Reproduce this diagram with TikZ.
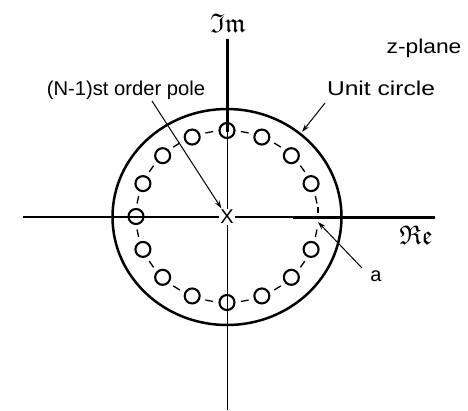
\documentclass[tikz,border=0pt]{standalone}
\usepackage{fontspec}
\usepackage{amsfonts}
\usepackage{graphicx}
\setmainfont{Liberation Sans}
\usetikzlibrary{arrows.meta}
\begin{document}
\begin{tikzpicture}[x=1pt,y=-1pt,
  lbl/.style={font=\fontsize{20}{20}\selectfont, inner sep=0pt},
  mlbl/.style={font=\fontsize{27}{27}\selectfont, inner sep=0pt},
  zero/.style={circle, draw, line width=2.1pt, minimum size=15pt, inner sep=0pt},
  arr/.style={line width=1pt, -{Stealth[length=8pt,width=5pt]}},
  axis/.style={line width=1.3pt},
  thickaxis/.style={line width=3pt},
  tick/.style={line width=1.3pt}]
\useasboundingbox (0,0) rectangle (468,410);
% axes
\coordinate (vtop) at (227.5,39);
\coordinate (vthick) at (227.5,132);
\coordinate (vbot) at (227.5,410);
\coordinate (hl) at (23,217);
\coordinate (hthick) at (293,217);
\coordinate (hr) at (435,217);
\draw[axis] (vtop) -- (vbot);
\draw[thickaxis] (vtop) -- (vthick);
\draw[axis] (hl) -- (hr);
\draw[thickaxis] (hthick) -- (hr);
% unit circle
\coordinate (O) at (227,217);
\draw[line width=2.5pt] (O) ellipse [x radius=114.5pt, y radius=108pt];
% zeros
\foreach \k in {1,...,15}
  \node[zero] (z\k) at ({227+91*cos(22.5*\k)}, {216.5-86*sin(22.5*\k)}) {};
% dashes of the zero circle
\foreach \k in {0,...,15}
  \draw[tick] ({227+91*cos(22.5*\k+11.25-2.5)}, {216.5-86*sin(22.5*\k+11.25-2.5)})
           -- ({227+91*cos(22.5*\k+11.25+2.5)}, {216.5-86*sin(22.5*\k+11.25+2.5)});
\coordinate (t0a) at (318,207);
\coordinate (t0b) at (318,213);
\draw[tick] (t0a) -- (t0b);
% pole
\node[lbl, fill=white, inner sep=1.5pt] (X) at (O) {X};
% labels
\node[mlbl] (im) at (228,23) {$\mathfrak{Im}$};
\node[mlbl] (re) at (416,235) {$\mathfrak{Re}$};
\node[lbl] (zp) at (424,48) {\scalebox{1.14}[1]{z-plane}};
\node[lbl] (uc) at (381,88) {\scalebox{1.23}[1]{Unit circle}};
\node[lbl] (pl) at (126,90) {\scalebox{1.01}[1]{(N-1)st order pole}};
\node[lbl] (al) at (376,276) {a};
% arrows
\coordinate (pa) at (152,101);
\draw[arr] (pa) -- (X);
\coordinate (ua) at (325,103);
\coordinate (ub) at (302,132);
\draw[arr] (ua) -- (ub);
\coordinate (aa) at (362,268);
\coordinate (ab) at (318,222);
\draw[arr] (aa) -- (ab);
\end{tikzpicture}
\end{document}
